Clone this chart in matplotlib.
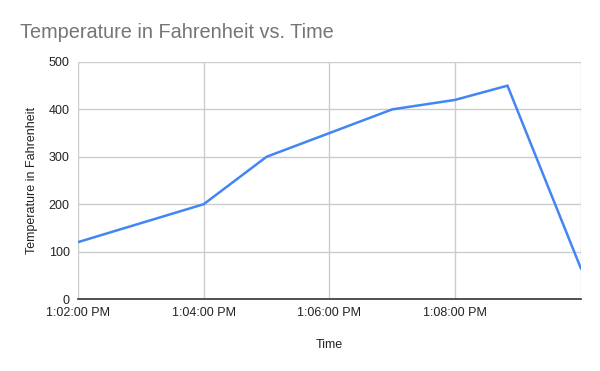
import datetime as dt
import matplotlib
matplotlib.use("Agg")
import matplotlib.pyplot as plt

times = ["13:02:00", "13:04:00", "13:05:00", "13:07:00", "13:08:00", "13:08:50", "13:10:00"]
temps = [120, 200, 300, 400, 420, 450, 65]
xticks = ["13:02:00", "13:04:00", "13:06:00", "13:08:00", "13:10:00"]
yticks = [0, 100, 200, 300, 400, 500]

day = dt.date(2020, 1, 1)


def to_dt(s):
    return dt.datetime.combine(day, dt.time.fromisoformat(s))


x = [to_dt(s) for s in times]

plt.rcParams["font.family"] = ["Liberation Sans", "DejaVu Sans"]
fig = plt.figure(figsize=(6, 3.71), dpi=100)
ax = fig.add_axes([0.13, 0.194, 0.838, 0.639])

ax.plot(x, temps, color="#4285f4", lw=1.8, solid_joinstyle="miter")
ax.set_xlim(to_dt("13:02:00"), to_dt("13:10:00"))
ax.set_ylim(0, 500)
ax.set_yticks(yticks)
xt = [to_dt(s) for s in xticks]
ax.set_xticks(xt)
# last gridline sits on the right edge with no label
labels = [t.strftime("%-I:%M:%S %p") for t in xt[:-1]] + [""]
ax.set_xticklabels(labels)

ax.grid(True, color="#cccccc", lw=1)
ax.set_axisbelow(True)
for s in ["top", "right", "left"]:
    ax.spines[s].set_visible(False)
ax.spines["bottom"].set_color("#333333")
ax.spines["bottom"].set_linewidth(1.2)
ax.tick_params(length=0, labelsize=9, colors="#222222", pad=6)

ax.set_xlabel("Time", fontsize=9, color="#222222", labelpad=14)
ax.set_ylabel("Temperature in Fahrenheit", fontsize=9, color="#222222", labelpad=8)
fig.text(0.033, 0.913, "Temperature in Fahrenheit vs. Time", fontsize=14.3,
         color="#757575", va="center")

fig.savefig("out.png", dpi=100)
